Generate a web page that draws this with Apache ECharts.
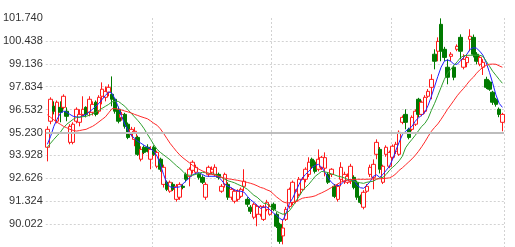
<!DOCTYPE html>
<html>
<head>
<meta charset="utf-8">
<script src="https://cdn.jsdelivr.net/npm/echarts@6/dist/echarts.min.js"></script>
<style>
  html, body { margin: 0; padding: 0; background: #fff; }
  #chart { width: 515px; height: 247px; }
</style>
</head>
<body>
<div id="chart"></div>
<script>
// y axis range and step (labels run 90.022 ... 101.740)
const yMin = 88.72
const yMax = 101.74
const yStep = 1.302

// daily candles: [open, close, low, high]
const candles = [
  [94.39, 95.41, 93.59, 95.58], [95.87, 97.12, 95.70, 97.23], [96.72, 96.44, 96.26, 97.00], [95.87, 96.95, 95.75, 97.05],
  [96.66, 96.38, 95.81, 97.00], [96.66, 97.29, 96.55, 97.40], [96.44, 96.15, 95.87, 96.66], [94.67, 95.58, 94.56, 95.70],
  [94.67, 95.70, 94.56, 95.81], [95.87, 96.55, 95.75, 96.66], [95.81, 96.26, 95.58, 96.55], [96.26, 96.55, 96.15, 97.29],
  [96.66, 96.26, 96.09, 96.72], [96.38, 97.12, 96.15, 97.29], [96.38, 96.83, 96.20, 97.00], [96.95, 96.26, 96.15, 97.05],
  [96.44, 97.23, 96.30, 97.35], [97.29, 97.69, 96.83, 98.08], [97.23, 97.57, 97.00, 97.85], [97.52, 97.80, 97.29, 97.97],
  [97.40, 97.12, 96.72, 98.42], [97.12, 96.44, 96.30, 97.20], [96.55, 95.87, 95.75, 96.70], [96.09, 96.26, 95.90, 96.40],
  [96.26, 95.58, 95.45, 96.35], [95.70, 94.95, 94.85, 95.80], [95.13, 95.41, 95.00, 95.55], [94.84, 95.30, 94.45, 95.53],
  [94.95, 93.99, 93.90, 95.05], [93.71, 94.27, 93.59, 94.45], [94.39, 94.10, 94.00, 94.50], [94.39, 94.16, 94.10, 94.56],
  [93.71, 94.27, 93.14, 94.45], [94.39, 93.99, 93.90, 94.50], [93.31, 94.10, 93.20, 94.20], [93.71, 93.14, 93.00, 93.80],
  [92.28, 93.25, 92.10, 93.40], [92.40, 92.00, 91.90, 92.50], [91.89, 92.40, 91.80, 92.50], [92.28, 92.00, 91.90, 92.40],
  [91.43, 92.17, 91.30, 92.30], [91.55, 92.28, 91.40, 92.40], [92.17, 92.11, 92.00, 92.30], [92.85, 92.57, 92.40, 92.95],
  [92.74, 93.14, 92.17, 93.25], [93.08, 93.54, 92.90, 93.65], [92.97, 93.25, 92.85, 93.40], [92.85, 92.68, 92.55, 92.95],
  [92.68, 92.40, 92.30, 92.80], [91.55, 92.28, 91.40, 92.40], [92.85, 93.25, 92.70, 93.35], [92.97, 93.14, 92.85, 93.30],
  [92.85, 93.25, 92.74, 93.42], [92.85, 92.68, 92.55, 92.95], [91.89, 92.17, 91.80, 92.30], [92.28, 92.85, 92.10, 92.95],
  [92.28, 91.55, 91.40, 92.40], [91.55, 92.00, 91.40, 92.10], [91.32, 91.89, 91.20, 92.00], [91.43, 91.89, 91.30, 92.00],
  [91.60, 92.00, 91.50, 92.10], [92.17, 92.46, 91.90, 93.14], [91.43, 91.15, 91.00, 91.55], [90.98, 90.75, 90.60, 91.10],
  [90.41, 91.15, 90.30, 91.25], [90.58, 91.03, 89.90, 91.15], [90.58, 91.03, 90.45, 91.10], [90.29, 90.98, 90.20, 91.10],
  [90.86, 91.26, 90.75, 91.40], [90.58, 91.03, 90.50, 91.15], [91.15, 90.86, 90.75, 91.25], [90.58, 89.90, 89.80, 90.70],
  [90.01, 89.04, 88.90, 90.10], [89.35, 89.80, 88.87, 90.29], [90.29, 90.86, 90.20, 91.00], [91.03, 92.00, 90.90, 92.10],
  [91.26, 92.40, 91.10, 92.50], [91.32, 91.89, 91.20, 92.00], [91.72, 92.57, 91.60, 92.70], [92.00, 92.57, 91.90, 92.70],
  [92.57, 93.14, 92.40, 93.25], [92.85, 93.54, 92.70, 93.82], [93.71, 93.31, 93.20, 93.80], [93.54, 93.02, 92.90, 93.65],
  [93.14, 93.71, 93.02, 94.27], [93.25, 93.82, 93.10, 93.90], [93.20, 93.80, 92.74, 94.10], [92.85, 92.40, 92.30, 92.95],
  [92.85, 93.14, 92.70, 93.20], [92.17, 91.60, 91.50, 92.30], [91.43, 92.17, 91.30, 92.30], [92.57, 93.25, 92.17, 93.54],
  [92.46, 92.85, 92.30, 93.00], [92.40, 92.74, 92.30, 92.90], [92.46, 93.31, 92.30, 93.45], [92.68, 92.11, 92.00, 92.80],
  [92.40, 91.55, 91.40, 92.50], [91.60, 91.26, 91.15, 91.70], [90.98, 91.83, 90.86, 91.95], [91.89, 92.17, 91.80, 92.30],
  [92.85, 93.25, 92.70, 93.40], [92.68, 93.42, 92.00, 93.70], [93.99, 94.67, 93.71, 94.84], [94.27, 93.14, 92.90, 94.40],
  [92.40, 93.31, 92.30, 93.40], [93.99, 94.39, 93.85, 94.50], [93.31, 94.10, 93.20, 94.20], [93.82, 94.45, 93.70, 94.55],
  [94.16, 94.56, 94.00, 94.70], [93.99, 95.24, 93.90, 95.35], [95.81, 96.09, 95.70, 96.20], [96.26, 95.81, 95.41, 96.55],
  [95.41, 94.95, 94.84, 95.50], [95.41, 96.09, 95.30, 96.20], [95.70, 96.44, 95.60, 96.55], [97.12, 96.26, 96.10, 97.20],
  [96.26, 96.95, 96.15, 97.05], [96.44, 97.23, 96.30, 97.35], [97.29, 97.57, 97.20, 97.70], [97.80, 98.25, 97.12, 98.54],
  [99.68, 99.28, 98.82, 99.96], [99.85, 100.41, 99.28, 100.64], [101.38, 99.85, 99.28, 101.72], [99.96, 99.50, 99.30, 100.10],
  [98.94, 98.37, 97.97, 99.39], [99.56, 99.68, 99.28, 99.80], [98.94, 98.37, 98.20, 99.05], [99.96, 100.13, 99.85, 100.24],
  [100.64, 99.85, 99.39, 100.81], [98.94, 99.39, 98.82, 99.68], [99.20, 99.50, 98.94, 99.68], [100.53, 100.70, 99.85, 101.10],
  [100.64, 99.68, 99.50, 100.80], [99.68, 99.28, 99.10, 99.80], [99.11, 99.50, 99.00, 99.60], [98.94, 99.22, 98.50, 99.40],
  [98.25, 97.80, 97.70, 98.40], [98.10, 97.69, 97.60, 98.20], [97.52, 96.95, 96.80, 97.60], [97.12, 96.83, 96.70, 97.20],
  [96.55, 96.26, 96.10, 96.65], [95.81, 96.26, 95.30, 96.35]
]

// moving averages
const ma5 = [
  94.56, 95.01, 95.58, 95.98, 96.32, 96.44, 96.38, 96.26, 96.15, 96.12, 96.09, 96.18, 96.26, 96.41, 96.55, 96.72,
  96.89, 97.12, 97.34, 97.54, 97.46, 97.12, 96.66, 96.15, 95.70, 95.35, 95.07, 94.90, 94.73, 94.62, 94.50, 94.39,
  94.30, 94.16, 93.88, 93.42, 92.85, 92.34, 92.14, 92.11, 92.11, 92.14, 92.31, 92.48, 92.65, 92.82, 92.91, 92.94,
  92.85, 92.75, 92.74, 92.74, 92.74, 92.71, 92.51, 92.28, 92.17, 92.09, 91.97, 91.91, 91.89, 91.83, 91.60, 91.40,
  91.26, 91.09, 90.92, 90.98, 91.00, 90.83, 90.66, 90.52, 90.35, 90.24, 90.64, 91.20, 91.49, 91.89, 92.28, 92.63,
  92.85, 93.02, 93.22, 93.36, 93.42, 93.25, 92.97, 92.65, 92.40, 92.25, 92.20, 92.28, 92.46, 92.54, 92.57, 92.51,
  92.23, 92.09, 92.06, 92.23, 92.43, 92.74, 92.82, 92.68, 92.85, 93.08, 93.31, 93.71, 94.22, 94.67, 95.10, 95.30,
  95.44, 95.58, 95.87, 96.07, 96.21, 96.38, 96.78, 97.29, 97.85, 98.42, 98.94, 99.28, 99.36, 99.28, 99.11, 99.11,
  99.31, 99.50, 99.68, 99.96, 100.05, 100.02, 99.85, 99.62, 99.19, 98.65, 98.03, 97.37, 96.89, 96.66
]
const ma10 = [
  94.39, 94.62, 94.84, 95.04, 95.24, 95.50, 95.70, 95.84, 95.98, 96.09, 96.11, 96.13, 96.15, 96.21, 96.29, 96.38,
  96.49, 96.61, 96.72, 96.83, 96.97, 97.00, 97.00, 96.86, 96.72, 96.52, 96.32, 96.12, 95.92, 95.70, 95.44, 95.13,
  94.84, 94.53, 94.27, 94.10, 93.96, 93.82, 93.68, 93.51, 93.34, 93.19, 93.02, 92.82, 92.80, 92.80, 92.85, 92.91,
  92.97, 92.94, 92.91, 92.88, 92.85, 92.77, 92.68, 92.57, 92.48, 92.43, 92.37, 92.28, 92.20, 92.11, 92.00, 91.83,
  91.66, 91.55, 91.38, 91.21, 91.18, 91.03, 90.89, 90.75, 90.66, 90.58, 90.64, 90.78, 91.03, 91.32, 91.60, 91.89,
  92.11, 92.28, 92.51, 92.74, 92.88, 93.02, 92.99, 92.95, 92.88, 92.82, 92.75, 92.71, 92.65, 92.57, 92.51, 92.46,
  92.40, 92.37, 92.34, 92.40, 92.43, 92.46, 92.57, 92.65, 92.68, 92.85, 93.08, 93.25, 93.42, 93.62, 93.88, 94.36,
  94.62, 94.84, 95.07, 95.33, 95.58, 95.75, 96.04, 96.49, 96.89, 97.34, 97.80, 98.25, 98.60, 98.82, 99.05, 99.25,
  99.48, 99.59, 99.62, 99.62, 99.62, 99.62, 99.62, 99.56, 99.28, 99.00, 98.71, 98.48, 98.25, 98.03
]
const ma20 = [
  96.24, 96.09, 95.95, 95.81, 95.70, 95.58, 95.50, 95.41, 95.35, 95.31, 95.34, 95.38, 95.41, 95.50, 95.58, 95.70,
  95.84, 95.98, 96.12, 96.35, 96.58, 96.59, 96.55, 96.51, 96.45, 96.40, 96.34, 96.26, 96.20, 96.13, 96.07, 96.01,
  95.89, 95.75, 95.64, 95.44, 95.18, 94.90, 94.62, 94.39, 94.16, 93.96, 93.79, 93.65, 93.51, 93.36, 93.25, 93.14,
  93.05, 92.97, 92.91, 92.85, 92.80, 92.74, 92.68, 92.63, 92.60, 92.57, 92.54, 92.51, 92.47, 92.43, 92.39, 92.34,
  92.28, 92.20, 92.11, 92.06, 91.97, 91.90, 91.74, 91.57, 91.43, 91.29, 91.23, 91.23, 91.25, 91.29, 91.40, 91.49,
  91.53, 91.55, 91.58, 91.63, 91.72, 91.80, 91.89, 91.99, 92.10, 92.20, 92.31, 92.41, 92.48, 92.51, 92.55, 92.57,
  92.57, 92.57, 92.57, 92.57, 92.58, 92.59, 92.59, 92.60, 92.61, 92.63, 92.65, 92.74, 92.88, 93.08, 93.22, 93.39,
  93.56, 93.73, 93.93, 94.16, 94.42, 94.70, 95.01, 95.30, 95.52, 95.72, 95.98, 96.26, 96.55, 96.80, 97.06, 97.32,
  97.54, 97.74, 97.97, 98.20, 98.37, 98.60, 98.79, 98.94, 99.05, 99.11, 99.12, 99.11, 99.02, 98.94
]

// trading days (no labels shown) and the days where a vertical grid line is drawn
const days = candles.map((_, i) => String(i + 1))
const gridDays = [33, 70, 107]

// highlighted reference level
const refLevel = 95.23

const chart = echarts.init(document.getElementById('chart'))

const gridLine = { color: '#d2d2d2', width: 1, type: [2, 2] }

const maLine = (name, data, color) => ({
  name,
  type: 'line',
  data,
  symbol: 'none',
  silent: true,
  lineStyle: { color, width: 1 },
  z: 3
})

chart.setOption({
  animation: false,
  backgroundColor: '#fff',
  grid: { left: 40, right: 11, top: 18, height: 229 },
  xAxis: {
    type: 'category',
    data: days,
    boundaryGap: true,
    axisLine: { show: false },
    axisTick: { show: false },
    axisLabel: { show: false },
    splitLine: {
      show: true,
      interval: (idx) => gridDays.includes(idx),
      lineStyle: gridLine
    }
  },
  yAxis: {
    type: 'value',
    min: yMin,
    max: yMax,
    interval: yStep,
    axisLine: { show: false },
    axisTick: { show: false },
    axisLabel: {
      formatter: (v) => v.toFixed(3),
      color: '#333',
      fontSize: 11,
      fontFamily: 'Liberation Sans',
      margin: 3,
      showMinLabel: false
    },
    splitLine: { show: true, showMinLine: false, showMaxLine: false, lineStyle: gridLine }
  },
  series: [
    {
      name: 'K',
      type: 'candlestick',
      data: candles,
      barWidth: 4,
      itemStyle: {
        color: '#fff',
        color0: '#007a00',
        borderColor: '#ff1a1a',
        borderColor0: '#007a00',
        borderWidth: 1
      },
      markLine: {
        silent: true,
        symbol: 'none',
        label: { show: false },
        lineStyle: { color: '#bdbdbd', width: 2, type: 'solid' },
        data: [{ yAxis: refLevel }]
      },
      z: 2
    },
    maLine('MA5', ma5, '#2020ff'),
    maLine('MA10', ma10, '#30a030'),
    maLine('MA20', ma20, '#ff2a2a')
  ]
})
</script>
</body>
</html>
